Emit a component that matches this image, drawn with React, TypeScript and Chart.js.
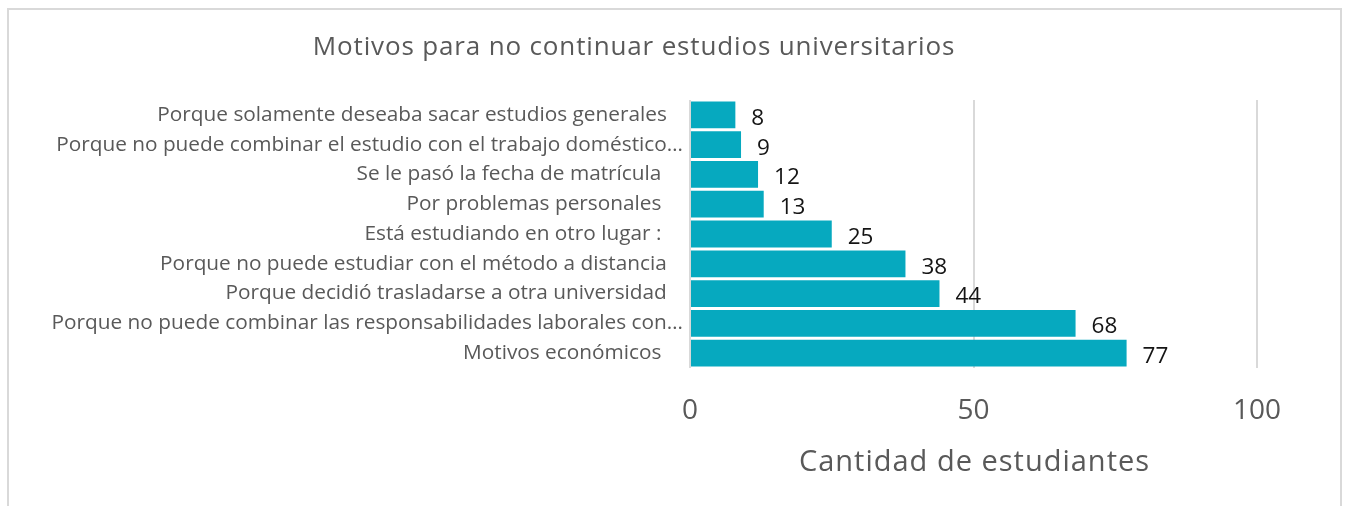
import React, { useEffect, useRef } from "react";
import { Chart, registerables } from "chart.js";

Chart.register(...registerables);

const categories: string[] = [
  "Porque solamente deseaba sacar estudios generales   ",
  "Porque no puede combinar el estudio con el trabajo doméstico…",
  "Se le pasó la fecha de matrícula    ",
  "Por problemas personales    ",
  "Está estudiando en otro lugar :    ",
  "Porque no puede estudiar con el método a distancia   ",
  "Porque decidió trasladarse a otra universidad   ",
  "Porque no puede combinar las responsabilidades laborales con…",
  "Motivos económicos    ",
];

const values: number[] = [8, 9, 12, 13, 25, 38, 44, 68, 77];

const xTicks: number[] = [0, 50, 100];

const chartTitle = "Motivos para no continuar estudios universitarios";
const xAxisTitle = "Cantidad de estudiantes";

const FONT = "'Open Sans', sans-serif";
const GRAY = "#595959";

const textExtras = {
  id: "textExtras",
  afterDatasetsDraw(chart: any) {
    const ctx = chart.ctx;
    const meta = chart.getDatasetMeta(0);
    ctx.save();
    ctx.font = `22.5px ${FONT}`;
    ctx.fillStyle = "#141414";
    ctx.textAlign = "left";
    ctx.textBaseline = "middle";
    meta.data.forEach((el: any, i: number) => {
      ctx.fillText(String(values[i]), el.x + 16, el.y + 3.5);
    });
    ctx.restore();
  },
  afterDraw(chart: any) {
    const ctx = chart.ctx;
    const area = chart.chartArea;
    ctx.save();
    ctx.fillStyle = GRAY;
    ctx.textAlign = "center";
    ctx.textBaseline = "alphabetic";
    // chart title
    ctx.font = `26px ${FONT}`;
    (ctx as any).letterSpacing = "0.85px";
    ctx.fillText(chartTitle, 634, 55);
    // x axis title
    ctx.font = `29px ${FONT}`;
    (ctx as any).letterSpacing = "1px";
    ctx.fillText(xAxisTitle, (area.left + area.right) / 2 + 1, 471);
    (ctx as any).letterSpacing = "0px";
    ctx.restore();
  },
};

export default function App() {
  const ref = useRef<HTMLCanvasElement | null>(null);

  useEffect(() => {
    if (!ref.current) return;
    const chart = new Chart(ref.current, {
      type: "bar",
      data: {
        labels: categories,
        datasets: [
          {
            data: values,
            backgroundColor: "#06A9BF",
            borderWidth: 0,
            barPercentage: 1,
            categoryPercentage: 0.9,
          },
        ],
      },
      options: {
        indexAxis: "y",
        animation: false,
        responsive: false,
        maintainAspectRatio: false,
        layout: { padding: { left: 10, right: 90, top: 100, bottom: 0 } },
        plugins: {
          legend: { display: false },
          tooltip: { enabled: false },
          title: { display: false },
        },
        scales: {
          x: {
            min: 0,
            max: 100,
            afterBuildTicks: (scale: any) => {
              scale.ticks = xTicks.map((v) => ({ value: v }));
            },
            afterFit: (scale: any) => {
              scale.height = 138;
            },
            grid: {
              color: "#d9d9d9",
              lineWidth: 2,
              drawTicks: false,
            },
            border: { display: false },
            ticks: {
              color: GRAY,
              font: { family: FONT, size: 28 },
              padding: 26,
            },
          },
          y: {
            grid: { display: false, drawTicks: false },
            border: { display: false },
            ticks: {
              color: GRAY,
              font: { family: FONT, size: 20.8 },
              padding: 7,
              autoSkip: false,
            },
            afterFit: (scale: any) => {
              scale.width = 680;
            },
          },
        },
      },
      plugins: [textExtras],
    });
    return () => chart.destroy();
  }, []);

  return (
    <div
      style={{
        position: "fixed",
        left: 0,
        top: 0,
        width: 1347,
        height: 506,
        overflow: "hidden",
        background: "#ffffff",
      }}
    >
      <div
        style={{
          position: "absolute",
          left: 7,
          top: 8,
          width: 1335,
          height: 600,
          boxSizing: "border-box",
          border: "2px solid #d9d9d9",
          borderBottom: "none",
        }}
      />
      <canvas
        ref={ref}
        width={1347}
        height={506}
        style={{ position: "absolute", left: 0, top: 0, width: 1347, height: 506 }}
      />
    </div>
  );
}
